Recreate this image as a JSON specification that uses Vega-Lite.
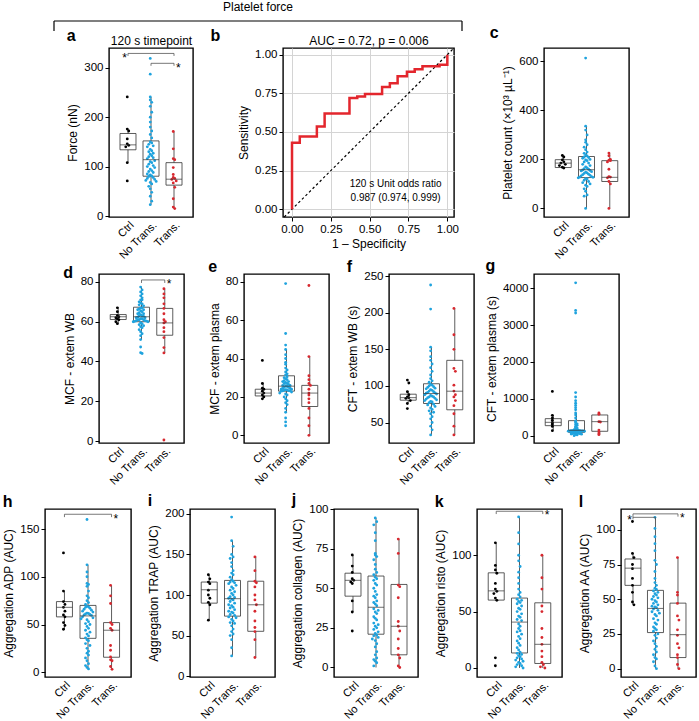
{
"$schema":"https://vega.github.io/schema/vega-lite/v6.json",
"padding":{"left":2,"top":1,"right":0,"bottom":0},
"background":"white",
"config":{
 "font":"Liberation Sans",
 "view":{"stroke":"black","strokeWidth":1.4},
 "axis":{"labelFontSize":11.5,"titleFontSize":12,"titleFontWeight":"normal","labelColor":"black","titleColor":"black","tickColor":"black","domain":false,"grid":false,"tickSize":4,"labelPadding":2,"titlePadding":4,"labelFont":"Liberation Sans","titleFont":"Liberation Sans"},
 "axisX":{"labelFontSize":11},
 "title":{"fontSize":16,"fontWeight":"bold","anchor":"start","frame":"bounds","baseline":"alphabetic","offset":-1,"color":"black","font":"Liberation Sans"}
},
"datasets":{
 "box":[
{"panel":"a","group":"C","lo":108,"q1":134,"med":144,"q3":167,"hi":176},
{"panel":"a","group":"N","lo":23,"q1":80.5,"med":114,"q3":152,"hi":241},
{"panel":"a","group":"T","lo":15,"q1":62.5,"med":74.5,"q3":108,"hi":171},
{"panel":"c","group":"C","lo":164,"q1":167,"med":185,"q3":199,"hi":216},
{"panel":"c","group":"N","lo":0,"q1":126,"med":158,"q3":212,"hi":336},
{"panel":"c","group":"T","lo":0,"q1":110,"med":127,"q3":195,"hi":226},
{"panel":"d","group":"C","lo":58.9,"q1":61.1,"med":62.5,"q3":63.6,"hi":67.3},
{"panel":"d","group":"N","lo":51,"q1":60,"med":62.5,"q3":67.3,"hi":77.4},
{"panel":"d","group":"T","lo":44.3,"q1":53.2,"med":59.4,"q3":66.7,"hi":76.6},
{"panel":"e","group":"C","lo":19,"q1":20.5,"med":22,"q3":24,"hi":27.4},
{"panel":"e","group":"N","lo":11.8,"q1":23,"med":25.6,"q3":31,"hi":44.7},
{"panel":"e","group":"T","lo":0,"q1":15,"med":22,"q3":26,"hi":41},
{"panel":"f","group":"C","lo":77,"q1":80.5,"med":84,"q3":88.7,"hi":93},
{"panel":"f","group":"N","lo":33,"q1":76,"med":89.6,"q3":103,"hi":153},
{"panel":"f","group":"T","lo":33,"q1":67.4,"med":92.8,"q3":135,"hi":206},
{"panel":"g","group":"C","lo":136,"q1":271,"med":362,"q3":461,"hi":552},
{"panel":"g","group":"N","lo":0,"q1":90,"med":145,"q3":407,"hi":615},
{"panel":"g","group":"T","lo":27,"q1":118,"med":380,"q3":561,"hi":615},
{"panel":"h","group":"C","lo":44.6,"q1":58,"med":68,"q3":74,"hi":85},
{"panel":"h","group":"N","lo":3.5,"q1":35.5,"med":59,"q3":70,"hi":112.5},
{"panel":"h","group":"T","lo":3,"q1":15.7,"med":44,"q3":52,"hi":91},
{"panel":"i","group":"C","lo":69,"q1":90,"med":106.5,"q3":116,"hi":125},
{"panel":"i","group":"N","lo":25,"q1":74,"med":95.5,"q3":118,"hi":167},
{"panel":"i","group":"T","lo":23,"q1":55.3,"med":88,"q3":117,"hi":147.5},
{"panel":"j","group":"C","lo":35,"q1":45,"med":55,"q3":59.5,"hi":71},
{"panel":"j","group":"N","lo":0,"q1":21,"med":38,"q3":57.7,"hi":94.3},
{"panel":"j","group":"T","lo":0,"q1":8,"med":26,"q3":52.4,"hi":81},
{"panel":"k","group":"C","lo":60,"q1":60.2,"med":68.4,"q3":84.4,"hi":111},
{"panel":"k","group":"N","lo":0,"q1":13.3,"med":40.7,"q3":62,"hi":134},
{"panel":"k","group":"T","lo":0,"q1":4,"med":21,"q3":57.8,"hi":100},
{"panel":"l","group":"C","lo":46,"q1":60,"med":72.4,"q3":79,"hi":83},
{"panel":"l","group":"N","lo":0,"q1":26,"med":43.4,"q3":56.4,"hi":109},
{"panel":"l","group":"T","lo":0,"q1":8,"med":24.5,"q3":47.2,"hi":79.6}
 ],
 "brk":[
{"panel":"a","group":"C","group2":"T","y":329},{"panel":"a","group":"N","group2":"T","y":309},{"panel":"d","group":"N","group2":"T","y":81},{"panel":"h","group":"C","group2":"T","y":165.5},{"panel":"k","group":"C","group2":"T","y":139},{"panel":"l","group":"C","group2":"T","y":111.5},{"panel":"l","group":"C","group2":"N","y":109}
 ],
 "drp":[
{"panel":"a","group":"C","y":329,"yd":324},{"panel":"a","group":"T","y":329,"yd":324},{"panel":"a","group":"N","y":309,"yd":304},{"panel":"a","group":"T","y":309,"yd":304},{"panel":"d","group":"N","y":81,"yd":79.5},{"panel":"d","group":"T","y":81,"yd":79.5},{"panel":"h","group":"C","y":165.5,"yd":162.5},{"panel":"h","group":"T","y":165.5,"yd":162.5},{"panel":"k","group":"C","y":139,"yd":136.5},{"panel":"k","group":"T","y":139,"yd":136.5},{"panel":"l","group":"C","y":111.5,"yd":107.5},{"panel":"l","group":"T","y":111.5,"yd":109.5},{"panel":"l","group":"N","y":109,"yd":107}
 ],
 "star":[
{"panel":"a","group":"C","side":"L","y":326},{"panel":"a","group":"T","side":"R","y":306},{"panel":"d","group":"T","side":"R","y":80.5},{"panel":"h","group":"T","side":"R","y":164},{"panel":"k","group":"T","side":"R","y":138},{"panel":"l","group":"C","side":"L","y":109},{"panel":"l","group":"T","side":"R","y":111}
 ],
 "roc":[
{"i":0,"fpr":0,"tpr":0},{"i":1,"fpr":0,"tpr":0.43},{"i":2,"fpr":0.05,"tpr":0.47},{"i":3,"fpr":0.16,"tpr":0.535},{"i":4,"fpr":0.21,"tpr":0.62},{"i":5,"fpr":0.37,"tpr":0.72},{"i":6,"fpr":0.42,"tpr":0.73},{"i":7,"fpr":0.47,"tpr":0.745},{"i":8,"fpr":0.58,"tpr":0.79},{"i":9,"fpr":0.63,"tpr":0.815},{"i":10,"fpr":0.68,"tpr":0.86},{"i":11,"fpr":0.74,"tpr":0.89},{"i":12,"fpr":0.79,"tpr":0.905},{"i":13,"fpr":0.84,"tpr":0.925},{"i":14,"fpr":0.95,"tpr":0.935},{"i":15,"fpr":1.0,"tpr":0.94},{"i":16,"fpr":1.0,"tpr":1.0}
 ],
 "pa":[
{"group":"C","value":241},{"group":"C","value":176},{"group":"C","value":172},{"group":"C","value":156},{"group":"C","value":146},{"group":"C","value":143},{"group":"C","value":140},{"group":"C","value":108},{"group":"C","value":71},
{"group":"N","value":319},{"group":"N","value":287},{"group":"N","value":241},{"group":"N","value":235},{"group":"N","value":230},{"group":"N","value":222},{"group":"N","value":210},{"group":"N","value":200},{"group":"N","value":190},{"group":"N","value":180},{"group":"N","value":172},{"group":"N","value":165},{"group":"N","value":158},{"group":"N","value":150},{"group":"N","value":148},{"group":"N","value":145},{"group":"N","value":142},{"group":"N","value":140},{"group":"N","value":135},{"group":"N","value":132},{"group":"N","value":130},{"group":"N","value":127},{"group":"N","value":125},{"group":"N","value":122},{"group":"N","value":120},{"group":"N","value":118},{"group":"N","value":116},{"group":"N","value":112},{"group":"N","value":110},{"group":"N","value":108},{"group":"N","value":105},{"group":"N","value":102},{"group":"N","value":100},{"group":"N","value":98},{"group":"N","value":95},{"group":"N","value":92},{"group":"N","value":90},{"group":"N","value":88},{"group":"N","value":85},{"group":"N","value":83},{"group":"N","value":81},{"group":"N","value":80},{"group":"N","value":78},{"group":"N","value":76},{"group":"N","value":74},{"group":"N","value":72},{"group":"N","value":70},{"group":"N","value":68},{"group":"N","value":65},{"group":"N","value":60},{"group":"N","value":55},{"group":"N","value":48},{"group":"N","value":40},{"group":"N","value":30},{"group":"N","value":23},
{"group":"T","value":171},{"group":"T","value":136},{"group":"T","value":116},{"group":"T","value":114},{"group":"T","value":98},{"group":"T","value":84},{"group":"T","value":78},{"group":"T","value":76},{"group":"T","value":74},{"group":"T","value":71},{"group":"T","value":67},{"group":"T","value":58},{"group":"T","value":35},{"group":"T","value":18},{"group":"T","value":15}
 ],
 "pc":[
{"group":"C","value":216},{"group":"C","value":210},{"group":"C","value":198},{"group":"C","value":190},{"group":"C","value":185},{"group":"C","value":180},{"group":"C","value":175},{"group":"C","value":168},{"group":"C","value":165},
{"group":"N","value":614},{"group":"N","value":336},{"group":"N","value":320},{"group":"N","value":300},{"group":"N","value":280},{"group":"N","value":270},{"group":"N","value":260},{"group":"N","value":250},{"group":"N","value":240},{"group":"N","value":230},{"group":"N","value":225},{"group":"N","value":218},{"group":"N","value":214},{"group":"N","value":210},{"group":"N","value":208},{"group":"N","value":205},{"group":"N","value":200},{"group":"N","value":198},{"group":"N","value":195},{"group":"N","value":190},{"group":"N","value":185},{"group":"N","value":180},{"group":"N","value":175},{"group":"N","value":170},{"group":"N","value":165},{"group":"N","value":162},{"group":"N","value":160},{"group":"N","value":157},{"group":"N","value":155},{"group":"N","value":153},{"group":"N","value":150},{"group":"N","value":148},{"group":"N","value":145},{"group":"N","value":143},{"group":"N","value":140},{"group":"N","value":138},{"group":"N","value":135},{"group":"N","value":133},{"group":"N","value":130},{"group":"N","value":128},{"group":"N","value":127},{"group":"N","value":125},{"group":"N","value":122},{"group":"N","value":120},{"group":"N","value":115},{"group":"N","value":110},{"group":"N","value":105},{"group":"N","value":100},{"group":"N","value":95},{"group":"N","value":90},{"group":"N","value":80},{"group":"N","value":70},{"group":"N","value":55},{"group":"N","value":50},{"group":"N","value":0},
{"group":"T","value":226},{"group":"T","value":215},{"group":"T","value":200},{"group":"T","value":197},{"group":"T","value":195},{"group":"T","value":190},{"group":"T","value":160},{"group":"T","value":130},{"group":"T","value":128},{"group":"T","value":125},{"group":"T","value":110},{"group":"T","value":100},{"group":"T","value":0}
 ],
 "pd":[
{"group":"C","value":67},{"group":"C","value":65},{"group":"C","value":63},{"group":"C","value":62.5},{"group":"C","value":62},{"group":"C","value":61.5},{"group":"C","value":61},{"group":"C","value":60},{"group":"C","value":59},
{"group":"N","value":77.4},{"group":"N","value":76},{"group":"N","value":75},{"group":"N","value":74},{"group":"N","value":73},{"group":"N","value":72},{"group":"N","value":71},{"group":"N","value":71},{"group":"N","value":70},{"group":"N","value":69.5},{"group":"N","value":69},{"group":"N","value":68.5},{"group":"N","value":68},{"group":"N","value":67},{"group":"N","value":67},{"group":"N","value":66.5},{"group":"N","value":66},{"group":"N","value":66},{"group":"N","value":65.5},{"group":"N","value":65},{"group":"N","value":64.5},{"group":"N","value":64},{"group":"N","value":64},{"group":"N","value":63.5},{"group":"N","value":63},{"group":"N","value":63},{"group":"N","value":62.7},{"group":"N","value":62.3},{"group":"N","value":62},{"group":"N","value":62},{"group":"N","value":61.5},{"group":"N","value":61.5},{"group":"N","value":61},{"group":"N","value":61},{"group":"N","value":61},{"group":"N","value":60.5},{"group":"N","value":60.5},{"group":"N","value":60.3},{"group":"N","value":60.2},{"group":"N","value":60},{"group":"N","value":60},{"group":"N","value":59.5},{"group":"N","value":59},{"group":"N","value":58.5},{"group":"N","value":58},{"group":"N","value":57.5},{"group":"N","value":57},{"group":"N","value":56},{"group":"N","value":55},{"group":"N","value":54},{"group":"N","value":53},{"group":"N","value":51},{"group":"N","value":47.3},{"group":"N","value":44.4},{"group":"N","value":44},
{"group":"T","value":76.6},{"group":"T","value":74},{"group":"T","value":72},{"group":"T","value":69},{"group":"T","value":66.7},{"group":"T","value":64},{"group":"T","value":61},{"group":"T","value":60},{"group":"T","value":59.4},{"group":"T","value":57},{"group":"T","value":55},{"group":"T","value":52},{"group":"T","value":47},{"group":"T","value":44.3},{"group":"T","value":0.5}
 ],
 "pe":[
{"group":"C","value":39},{"group":"C","value":27},{"group":"C","value":24.5},{"group":"C","value":24},{"group":"C","value":23},{"group":"C","value":22},{"group":"C","value":21},{"group":"C","value":20},{"group":"C","value":19},
{"group":"N","value":79},{"group":"N","value":53},{"group":"N","value":47},{"group":"N","value":44.7},{"group":"N","value":42},{"group":"N","value":40},{"group":"N","value":38},{"group":"N","value":37},{"group":"N","value":35},{"group":"N","value":34},{"group":"N","value":33},{"group":"N","value":32},{"group":"N","value":31.5},{"group":"N","value":30.5},{"group":"N","value":30},{"group":"N","value":29.5},{"group":"N","value":29},{"group":"N","value":28.5},{"group":"N","value":28},{"group":"N","value":28},{"group":"N","value":27.5},{"group":"N","value":27},{"group":"N","value":27},{"group":"N","value":26.5},{"group":"N","value":26},{"group":"N","value":26},{"group":"N","value":25.8},{"group":"N","value":25.4},{"group":"N","value":25},{"group":"N","value":25},{"group":"N","value":24.5},{"group":"N","value":24.5},{"group":"N","value":24},{"group":"N","value":24},{"group":"N","value":23.8},{"group":"N","value":23.6},{"group":"N","value":23.5},{"group":"N","value":23.3},{"group":"N","value":23.2},{"group":"N","value":23.1},{"group":"N","value":23},{"group":"N","value":22.5},{"group":"N","value":22},{"group":"N","value":21.5},{"group":"N","value":21},{"group":"N","value":20},{"group":"N","value":19},{"group":"N","value":18},{"group":"N","value":17},{"group":"N","value":16},{"group":"N","value":14},{"group":"N","value":12},{"group":"N","value":9},{"group":"N","value":7},{"group":"N","value":5},
{"group":"T","value":78},{"group":"T","value":41},{"group":"T","value":31},{"group":"T","value":29},{"group":"T","value":27},{"group":"T","value":26},{"group":"T","value":24},{"group":"T","value":22},{"group":"T","value":21},{"group":"T","value":19},{"group":"T","value":17},{"group":"T","value":14},{"group":"T","value":9},{"group":"T","value":5},{"group":"T","value":0}
 ],
 "pf":[
{"group":"C","value":108},{"group":"C","value":104},{"group":"C","value":92},{"group":"C","value":88},{"group":"C","value":85},{"group":"C","value":84},{"group":"C","value":83},{"group":"C","value":80},{"group":"C","value":76},{"group":"C","value":69},
{"group":"N","value":238},{"group":"N","value":205},{"group":"N","value":153},{"group":"N","value":148},{"group":"N","value":140},{"group":"N","value":135},{"group":"N","value":130},{"group":"N","value":125},{"group":"N","value":120},{"group":"N","value":115},{"group":"N","value":110},{"group":"N","value":107},{"group":"N","value":105},{"group":"N","value":102},{"group":"N","value":101},{"group":"N","value":100},{"group":"N","value":99},{"group":"N","value":98},{"group":"N","value":97},{"group":"N","value":96},{"group":"N","value":95},{"group":"N","value":94},{"group":"N","value":93},{"group":"N","value":92},{"group":"N","value":91},{"group":"N","value":90.5},{"group":"N","value":90},{"group":"N","value":89},{"group":"N","value":88},{"group":"N","value":87},{"group":"N","value":86},{"group":"N","value":85},{"group":"N","value":85},{"group":"N","value":84},{"group":"N","value":83},{"group":"N","value":82},{"group":"N","value":81},{"group":"N","value":80},{"group":"N","value":79},{"group":"N","value":78},{"group":"N","value":77},{"group":"N","value":75},{"group":"N","value":74},{"group":"N","value":72},{"group":"N","value":70},{"group":"N","value":68},{"group":"N","value":66},{"group":"N","value":64},{"group":"N","value":62},{"group":"N","value":58},{"group":"N","value":55},{"group":"N","value":50},{"group":"N","value":45},{"group":"N","value":40},{"group":"N","value":33},
{"group":"T","value":206},{"group":"T","value":170},{"group":"T","value":150},{"group":"T","value":124},{"group":"T","value":120},{"group":"T","value":101},{"group":"T","value":93},{"group":"T","value":88},{"group":"T","value":85},{"group":"T","value":80},{"group":"T","value":73},{"group":"T","value":62},{"group":"T","value":45},{"group":"T","value":33}
 ],
 "pg":[
{"group":"C","value":1200},{"group":"C","value":552},{"group":"C","value":480},{"group":"C","value":420},{"group":"C","value":360},{"group":"C","value":340},{"group":"C","value":300},{"group":"C","value":250},{"group":"C","value":136},
{"group":"N","value":4150},{"group":"N","value":3400},{"group":"N","value":3330},{"group":"N","value":1170},{"group":"N","value":1050},{"group":"N","value":950},{"group":"N","value":880},{"group":"N","value":820},{"group":"N","value":760},{"group":"N","value":700},{"group":"N","value":615},{"group":"N","value":560},{"group":"N","value":480},{"group":"N","value":400},{"group":"N","value":380},{"group":"N","value":350},{"group":"N","value":320},{"group":"N","value":300},{"group":"N","value":280},{"group":"N","value":250},{"group":"N","value":230},{"group":"N","value":210},{"group":"N","value":190},{"group":"N","value":175},{"group":"N","value":165},{"group":"N","value":155},{"group":"N","value":150},{"group":"N","value":142},{"group":"N","value":140},{"group":"N","value":138},{"group":"N","value":135},{"group":"N","value":133},{"group":"N","value":130},{"group":"N","value":128},{"group":"N","value":125},{"group":"N","value":122},{"group":"N","value":120},{"group":"N","value":115},{"group":"N","value":110},{"group":"N","value":100},{"group":"N","value":95},{"group":"N","value":88},{"group":"N","value":85},{"group":"N","value":80},{"group":"N","value":75},{"group":"N","value":70},{"group":"N","value":65},{"group":"N","value":60},{"group":"N","value":55},{"group":"N","value":50},{"group":"N","value":45},{"group":"N","value":40},{"group":"N","value":30},{"group":"N","value":20},{"group":"N","value":0},
{"group":"T","value":615},{"group":"T","value":580},{"group":"T","value":380},{"group":"T","value":370},{"group":"T","value":150},{"group":"T","value":100},{"group":"T","value":50},{"group":"T","value":27}
 ],
 "ph":[
{"group":"C","value":125},{"group":"C","value":85},{"group":"C","value":74},{"group":"C","value":71},{"group":"C","value":68},{"group":"C","value":64},{"group":"C","value":60},{"group":"C","value":58},{"group":"C","value":52},{"group":"C","value":49},{"group":"C","value":45},
{"group":"N","value":160},{"group":"N","value":112.5},{"group":"N","value":105},{"group":"N","value":100},{"group":"N","value":93},{"group":"N","value":92},{"group":"N","value":90},{"group":"N","value":85},{"group":"N","value":80},{"group":"N","value":78},{"group":"N","value":75},{"group":"N","value":73},{"group":"N","value":71},{"group":"N","value":69},{"group":"N","value":68.5},{"group":"N","value":68},{"group":"N","value":67},{"group":"N","value":66},{"group":"N","value":65},{"group":"N","value":64},{"group":"N","value":63},{"group":"N","value":62},{"group":"N","value":61.5},{"group":"N","value":61},{"group":"N","value":60.5},{"group":"N","value":60},{"group":"N","value":59.5},{"group":"N","value":58},{"group":"N","value":57},{"group":"N","value":56},{"group":"N","value":55},{"group":"N","value":53},{"group":"N","value":51},{"group":"N","value":50},{"group":"N","value":48},{"group":"N","value":46},{"group":"N","value":44},{"group":"N","value":42},{"group":"N","value":40},{"group":"N","value":38},{"group":"N","value":36},{"group":"N","value":34},{"group":"N","value":33},{"group":"N","value":30},{"group":"N","value":28},{"group":"N","value":25},{"group":"N","value":22},{"group":"N","value":20},{"group":"N","value":18},{"group":"N","value":15},{"group":"N","value":12},{"group":"N","value":9},{"group":"N","value":7},{"group":"N","value":5},{"group":"N","value":3.5},
{"group":"T","value":91},{"group":"T","value":80},{"group":"T","value":72},{"group":"T","value":52},{"group":"T","value":50},{"group":"T","value":46},{"group":"T","value":44},{"group":"T","value":28},{"group":"T","value":23},{"group":"T","value":16},{"group":"T","value":13},{"group":"T","value":12},{"group":"T","value":6},{"group":"T","value":3}
 ],
 "pi":[
{"group":"C","value":125},{"group":"C","value":120},{"group":"C","value":116},{"group":"C","value":114},{"group":"C","value":106},{"group":"C","value":100},{"group":"C","value":96},{"group":"C","value":91},{"group":"C","value":88},{"group":"C","value":69},
{"group":"N","value":196},{"group":"N","value":167},{"group":"N","value":160},{"group":"N","value":150},{"group":"N","value":147},{"group":"N","value":145},{"group":"N","value":140},{"group":"N","value":135},{"group":"N","value":130},{"group":"N","value":127},{"group":"N","value":125},{"group":"N","value":122},{"group":"N","value":119},{"group":"N","value":117},{"group":"N","value":116},{"group":"N","value":115},{"group":"N","value":114},{"group":"N","value":112},{"group":"N","value":110},{"group":"N","value":108},{"group":"N","value":106},{"group":"N","value":104},{"group":"N","value":102},{"group":"N","value":100},{"group":"N","value":98},{"group":"N","value":97},{"group":"N","value":96},{"group":"N","value":95},{"group":"N","value":94},{"group":"N","value":92},{"group":"N","value":90},{"group":"N","value":88},{"group":"N","value":87},{"group":"N","value":85},{"group":"N","value":84},{"group":"N","value":82},{"group":"N","value":80},{"group":"N","value":79},{"group":"N","value":78},{"group":"N","value":76},{"group":"N","value":75},{"group":"N","value":73},{"group":"N","value":72},{"group":"N","value":70},{"group":"N","value":68},{"group":"N","value":66},{"group":"N","value":65},{"group":"N","value":62},{"group":"N","value":58},{"group":"N","value":55},{"group":"N","value":52},{"group":"N","value":50},{"group":"N","value":45},{"group":"N","value":35},{"group":"N","value":25},
{"group":"T","value":147},{"group":"T","value":130},{"group":"T","value":117},{"group":"T","value":115},{"group":"T","value":110},{"group":"T","value":100},{"group":"T","value":94},{"group":"T","value":88},{"group":"T","value":80},{"group":"T","value":68},{"group":"T","value":60},{"group":"T","value":55},{"group":"T","value":45},{"group":"T","value":23}
 ],
 "pj":[
{"group":"C","value":71},{"group":"C","value":64},{"group":"C","value":60},{"group":"C","value":56},{"group":"C","value":55},{"group":"C","value":54},{"group":"C","value":53},{"group":"C","value":42},{"group":"C","value":35},{"group":"C","value":23},
{"group":"N","value":94.3},{"group":"N","value":92},{"group":"N","value":90},{"group":"N","value":85},{"group":"N","value":80},{"group":"N","value":72},{"group":"N","value":71},{"group":"N","value":70},{"group":"N","value":68},{"group":"N","value":65},{"group":"N","value":62},{"group":"N","value":60},{"group":"N","value":58.5},{"group":"N","value":57},{"group":"N","value":56},{"group":"N","value":55},{"group":"N","value":53},{"group":"N","value":52},{"group":"N","value":50},{"group":"N","value":48},{"group":"N","value":46},{"group":"N","value":45},{"group":"N","value":44},{"group":"N","value":42},{"group":"N","value":41},{"group":"N","value":40},{"group":"N","value":39},{"group":"N","value":37},{"group":"N","value":36},{"group":"N","value":35},{"group":"N","value":34},{"group":"N","value":32},{"group":"N","value":31},{"group":"N","value":30},{"group":"N","value":28},{"group":"N","value":27},{"group":"N","value":26},{"group":"N","value":25},{"group":"N","value":24},{"group":"N","value":22.5},{"group":"N","value":21.5},{"group":"N","value":20.5},{"group":"N","value":20},{"group":"N","value":19},{"group":"N","value":18},{"group":"N","value":17},{"group":"N","value":15},{"group":"N","value":13},{"group":"N","value":10},{"group":"N","value":8},{"group":"N","value":6},{"group":"N","value":5},{"group":"N","value":4},{"group":"N","value":3},{"group":"N","value":1},
{"group":"T","value":81},{"group":"T","value":72},{"group":"T","value":52},{"group":"T","value":51},{"group":"T","value":44},{"group":"T","value":29},{"group":"T","value":26},{"group":"T","value":23},{"group":"T","value":18},{"group":"T","value":12},{"group":"T","value":8},{"group":"T","value":6},{"group":"T","value":1},{"group":"T","value":0}
 ],
 "pk":[
{"group":"C","value":111},{"group":"C","value":91},{"group":"C","value":87},{"group":"C","value":84},{"group":"C","value":75},{"group":"C","value":70},{"group":"C","value":68},{"group":"C","value":66},{"group":"C","value":62},{"group":"C","value":60},{"group":"C","value":9},{"group":"C","value":2},
{"group":"N","value":134},{"group":"N","value":120},{"group":"N","value":110},{"group":"N","value":100},{"group":"N","value":95},{"group":"N","value":90},{"group":"N","value":85},{"group":"N","value":80},{"group":"N","value":75},{"group":"N","value":70},{"group":"N","value":67},{"group":"N","value":65},{"group":"N","value":63},{"group":"N","value":61},{"group":"N","value":60},{"group":"N","value":59},{"group":"N","value":58},{"group":"N","value":57},{"group":"N","value":55},{"group":"N","value":53},{"group":"N","value":52},{"group":"N","value":50},{"group":"N","value":48},{"group":"N","value":46},{"group":"N","value":45},{"group":"N","value":43},{"group":"N","value":42},{"group":"N","value":39},{"group":"N","value":37},{"group":"N","value":35},{"group":"N","value":33},{"group":"N","value":32},{"group":"N","value":30},{"group":"N","value":28},{"group":"N","value":26},{"group":"N","value":24},{"group":"N","value":22},{"group":"N","value":20},{"group":"N","value":18},{"group":"N","value":16},{"group":"N","value":14},{"group":"N","value":13},{"group":"N","value":12},{"group":"N","value":11},{"group":"N","value":10},{"group":"N","value":9},{"group":"N","value":8},{"group":"N","value":7},{"group":"N","value":6},{"group":"N","value":5},{"group":"N","value":4},{"group":"N","value":3},{"group":"N","value":2},{"group":"N","value":1},{"group":"N","value":0},
{"group":"T","value":100},{"group":"T","value":80},{"group":"T","value":70},{"group":"T","value":55},{"group":"T","value":50},{"group":"T","value":35},{"group":"T","value":27},{"group":"T","value":21},{"group":"T","value":15},{"group":"T","value":10},{"group":"T","value":5},{"group":"T","value":3},{"group":"T","value":1},{"group":"T","value":0}
 ],
 "pl":[
{"group":"C","value":106},{"group":"C","value":83},{"group":"C","value":80},{"group":"C","value":75},{"group":"C","value":72},{"group":"C","value":65},{"group":"C","value":60},{"group":"C","value":55},{"group":"C","value":48},{"group":"C","value":46},
{"group":"N","value":109},{"group":"N","value":101},{"group":"N","value":95},{"group":"N","value":90},{"group":"N","value":85},{"group":"N","value":78},{"group":"N","value":75},{"group":"N","value":70},{"group":"N","value":65},{"group":"N","value":62},{"group":"N","value":60},{"group":"N","value":58},{"group":"N","value":57},{"group":"N","value":56},{"group":"N","value":55},{"group":"N","value":54},{"group":"N","value":53},{"group":"N","value":52},{"group":"N","value":51},{"group":"N","value":50},{"group":"N","value":49},{"group":"N","value":48},{"group":"N","value":47},{"group":"N","value":46},{"group":"N","value":45},{"group":"N","value":44.5},{"group":"N","value":44},{"group":"N","value":43},{"group":"N","value":42},{"group":"N","value":41},{"group":"N","value":40},{"group":"N","value":39},{"group":"N","value":38},{"group":"N","value":36},{"group":"N","value":35},{"group":"N","value":33},{"group":"N","value":32},{"group":"N","value":30},{"group":"N","value":29},{"group":"N","value":28},{"group":"N","value":27},{"group":"N","value":25},{"group":"N","value":24},{"group":"N","value":22},{"group":"N","value":20},{"group":"N","value":18},{"group":"N","value":16},{"group":"N","value":14},{"group":"N","value":12},{"group":"N","value":10},{"group":"N","value":8},{"group":"N","value":7},{"group":"N","value":5},{"group":"N","value":2},{"group":"N","value":0},
{"group":"T","value":80},{"group":"T","value":55},{"group":"T","value":53},{"group":"T","value":47},{"group":"T","value":38},{"group":"T","value":35},{"group":"T","value":28},{"group":"T","value":24},{"group":"T","value":18},{"group":"T","value":15},{"group":"T","value":10},{"group":"T","value":8},{"group":"T","value":3},{"group":"T","value":0}
 ]
},
"vconcat":[
 {"vconcat":[
  {"vconcat":[
   {"hconcat":[
     {"width":9,"height":10,"view":{"stroke":null},"data":{"values":[]},"mark":"point"},
     {"width":408,"height":10,"view":{"stroke":null},
      "title":{"text":"Platelet force","anchor":"middle","frame":"group","fontSize":12,"fontWeight":"normal","offset":6},
      "data":{"values":[{"xa":0,"xb":1,"ya":1,"yb":1},{"xa":0,"xb":0,"ya":1,"yb":0},{"xa":1,"xb":1,"ya":1,"yb":0}]},
      "mark":{"type":"rule","color":"black","strokeWidth":1.2},
      "encoding":{"x":{"field":"xa","type":"quantitative","axis":null,"scale":{"domain":[0,1]}},"x2":{"field":"xb"},"y":{"field":"ya","type":"quantitative","axis":null,"scale":{"domain":[0,1]}},"y2":{"field":"yb"}}}
   ],"spacing":0,"bounds":"flush"},
   {"hconcat":[
    {"width":21,"height":10,"view":{"stroke":null},"data":{"values":[]},"mark":"point"},
    {"hconcat":[
     {"width":84,"height":169,"title":{"text":"a","offset":-10},
      "layer":[
       {"encoding":{"x":{"field":"group","type":"nominal","scale":{"type":"band","domain":["C","N","T"],"paddingInner":0.1,"paddingOuter":0.376},"axis":{"title":null,"ticks":false,"labelAngle":-45,"labelAlign":"right","labelBaseline":"top","labelPadding":2,"labelExpr":"datum.value == 'C' ? 'Ctrl' : datum.value == 'N' ? 'No Trans.' : 'Trans.'"}}},
        "layer":[
         {"data":{"name":"box"},"transform":[{"filter":"datum.panel == 'a'"}],"layer":[
           {"mark":{"type":"rule","color":"#333","strokeWidth":0.8},"encoding":{"y":{"field":"lo","type":"quantitative","scale":{"domain":[-2,340],"nice":false,"zero":false},"axis":{"title":"Force (nN)","values":[0,50,100,150,200,250,300],"labelExpr":"datum.value % 100 == 0 ? datum.label : ''"}},"y2":{"field":"hi"}}},
           {"mark":{"type":"bar","size":16,"fill":"white","stroke":"#333","strokeWidth":0.8},"encoding":{"y":{"field":"q1","type":"quantitative","scale":{"domain":[-2,340],"nice":false,"zero":false}},"y2":{"field":"q3"}}}
         ]},
         {"data":{"name":"pa"},"transform":[{"bin":{"step":14},"field":"value","as":"vb"},{"window":[{"op":"row_number","as":"k"}],"groupby":["group","vb"]}],"mark":{"type":"circle","size":8,"opacity":1},"encoding":{"y":{"field":"value","type":"quantitative","scale":{"domain":[-2,340],"nice":false,"zero":false}},"xOffset":{"field":"k","type":"ordinal","scale":{"domain":[13,11,9,7,5,3,1,2,4,6,8,10,12,14]}},"color":{"field":"group","type":"nominal","scale":{"domain":["C","N","T"],"range":["#000000","#1fa3de","#d7282f"]},"legend":null}}},
         {"data":{"name":"box"},"transform":[{"filter":"datum.panel == 'a'"}],"mark":{"type":"tick","size":16,"thickness":1,"color":"#333"},"encoding":{"y":{"field":"med","type":"quantitative","scale":{"domain":[-2,340],"nice":false,"zero":false}}}}
        ]},
       {"encoding":{"x":{"field":"group","type":"nominal","scale":{"type":"band","domain":["C","N","T"],"paddingInner":0.1,"paddingOuter":0.376},"axis":{"orient":"top","title":"120 s timepoint","labels":false,"ticks":false,"domain":false,"titlePadding":1}}},
        "layer":[
         {"data":{"name":"brk"},"transform":[{"filter":"datum.panel == 'a'"}],"mark":{"type":"rule","color":"#555","strokeWidth":0.8},"encoding":{"x2":{"field":"group2"},"y":{"field":"y","type":"quantitative","scale":{"domain":[-2,340],"nice":false,"zero":false}}}},
         {"data":{"name":"drp"},"transform":[{"filter":"datum.panel == 'a'"}],"mark":{"type":"rule","color":"#555","strokeWidth":0.8},"encoding":{"y":{"field":"y","type":"quantitative","scale":{"domain":[-2,340],"nice":false,"zero":false}},"y2":{"field":"yd"}}},
         {"data":{"name":"star"},"transform":[{"filter":"datum.panel == 'a' && datum.side == 'L'"}],"mark":{"type":"text","text":"*","align":"right","baseline":"middle","dx":-1,"dy":3,"fontSize":12},"encoding":{"y":{"field":"y","type":"quantitative","scale":{"domain":[-2,340],"nice":false,"zero":false}}}},
         {"data":{"name":"star"},"transform":[{"filter":"datum.panel == 'a' && datum.side == 'R'"}],"mark":{"type":"text","text":"*","align":"left","baseline":"middle","dx":2,"dy":3,"fontSize":12},"encoding":{"y":{"field":"y","type":"quantitative","scale":{"domain":[-2,340],"nice":false,"zero":false}}}}
        ]}
      ],
      "resolve":{"axis":{"x":"independent"}}},
     {"width":171,"height":169,"title":{"text":"b","offset":-10,"dx":-27},
      "layer":[
       {"data":{"values":[{"fpr":-0.05,"tpr":-0.05},{"fpr":1.04,"tpr":1.04}]},"mark":{"type":"line","color":"black","strokeDash":[2.5,2.5],"strokeWidth":1.2},
        "encoding":{"x":{"field":"fpr","type":"quantitative","scale":{"domain":[-0.058,1.043],"nice":false,"zero":false},"axis":{"orient":"top","title":"AUC = 0.72, p = 0.006","labels":false,"ticks":false,"domain":false,"grid":false,"titlePadding":1}},
                    "y":{"field":"tpr","type":"quantitative","scale":{"domain":[-0.05,1.043],"nice":false,"zero":false},"axis":{"title":"Sensitivity","values":[0,0.25,0.5,0.75,1],"format":".2f","grid":true,"gridColor":"#d4d4d4"}}}},
       {"data":{"name":"roc"},"mark":{"type":"line","interpolate":"step-after","color":"#e3262d","strokeWidth":2.5},
        "encoding":{"x":{"field":"fpr","type":"quantitative","scale":{"domain":[-0.058,1.043],"nice":false,"zero":false},"axis":{"title":"1 – Specificity","values":[0,0.25,0.5,0.75,1],"format":".2f","grid":true,"gridColor":"#d4d4d4","labelFontSize":11.5}},
                    "y":{"field":"tpr","type":"quantitative","scale":{"domain":[-0.05,1.043],"nice":false,"zero":false}},"order":{"field":"i"}}},
       {"data":{"values":[{"fpr":0.667,"tpr":0.163,"label":"120 s Unit odds ratio"},{"fpr":0.667,"tpr":0.076,"label":"0.987 (0.974, 0.999)"}]},"mark":{"type":"text","fontSize":10,"color":"black"},
        "encoding":{"x":{"field":"fpr","type":"quantitative","scale":{"domain":[-0.058,1.043],"nice":false,"zero":false},"axis":null},"y":{"field":"tpr","type":"quantitative","scale":{"domain":[-0.05,1.043],"nice":false,"zero":false}},"text":{"field":"label"}}}
      ],
      "resolve":{"axis":{"x":"independent"}}},
     {"width":85,"height":169,"title":{"text":"c","offset":7,"dx":-12},
      "encoding":{"x":{"field":"group","type":"nominal","scale":{"type":"band","domain":["C","N","T"],"paddingInner":0.1,"paddingOuter":0.376},"axis":{"title":null,"ticks":false,"labelAngle":-45,"labelAlign":"right","labelBaseline":"top","labelPadding":2,"labelExpr":"datum.value == 'C' ? 'Ctrl' : datum.value == 'N' ? 'No Trans.' : 'Trans.'"}}},
      "layer":[
       {"data":{"name":"box"},"transform":[{"filter":"datum.panel == 'c'"}],"layer":[
         {"mark":{"type":"rule","color":"#333","strokeWidth":0.8},"encoding":{"y":{"field":"lo","type":"quantitative","scale":{"domain":[-35,655],"nice":false,"zero":false},"axis":{"title":"Platelet count (×10³ µL⁻¹)","values":[0,50,100,150,200,250,300,350,400,450,500,550,600],"labelExpr":"datum.value % 100 == 0 ? datum.label : ''"}},"y2":{"field":"hi"}}},
         {"mark":{"type":"bar","size":16,"fill":"white","stroke":"#333","strokeWidth":0.8},"encoding":{"y":{"field":"q1","type":"quantitative","scale":{"domain":[-35,655],"nice":false,"zero":false}},"y2":{"field":"q3"}}}
       ]},
       {"data":{"name":"pc"},"transform":[{"bin":{"step":25},"field":"value","as":"vb"},{"window":[{"op":"row_number","as":"k"}],"groupby":["group","vb"]}],"mark":{"type":"circle","size":8,"opacity":1},"encoding":{"y":{"field":"value","type":"quantitative","scale":{"domain":[-35,655],"nice":false,"zero":false}},"xOffset":{"field":"k","type":"ordinal","scale":{"domain":[13,11,9,7,5,3,1,2,4,6,8,10,12,14]}},"color":{"field":"group","type":"nominal","scale":{"domain":["C","N","T"],"range":["#000000","#1fa3de","#d7282f"]},"legend":null}}},
       {"data":{"name":"box"},"transform":[{"filter":"datum.panel == 'c'"}],"mark":{"type":"tick","size":16,"thickness":1,"color":"#333"},"encoding":{"y":{"field":"med","type":"quantitative","scale":{"domain":[-35,655],"nice":false,"zero":false}}}}
      ]}
    ],"spacing":90,"bounds":"flush"}
   ],"spacing":0}
  ],"spacing":-8},
  {"hconcat":[
   {"width":17,"height":10,"view":{"stroke":null},"data":{"values":[]},"mark":"point"},
   {"hconcat":[
    {"width":85,"height":169,"title":{"text":"d","offset":-7},
     "encoding":{"x":{"field":"group","type":"nominal","scale":{"type":"band","domain":["C","N","T"],"paddingInner":0.1,"paddingOuter":0.376},"axis":{"title":null,"ticks":false,"labelAngle":-45,"labelAlign":"right","labelBaseline":"top","labelPadding":2,"labelExpr":"datum.value == 'C' ? 'Ctrl' : datum.value == 'N' ? 'No Trans.' : 'Trans.'"}}},
     "layer":[
      {"data":{"name":"box"},"transform":[{"filter":"datum.panel == 'd'"}],"layer":[
        {"mark":{"type":"rule","color":"#333","strokeWidth":0.8},"encoding":{"y":{"field":"lo","type":"quantitative","scale":{"domain":[-1,84],"nice":false,"zero":false},"axis":{"title":"MCF - extem WB","values":[0,20,40,60,80]}},"y2":{"field":"hi"}}},
        {"mark":{"type":"bar","size":16,"fill":"white","stroke":"#333","strokeWidth":0.8},"encoding":{"y":{"field":"q1","type":"quantitative","scale":{"domain":[-1,84],"nice":false,"zero":false}},"y2":{"field":"q3"}}}
      ]},
      {"data":{"name":"pd"},"transform":[{"bin":{"step":2},"field":"value","as":"vb"},{"window":[{"op":"row_number","as":"k"}],"groupby":["group","vb"]}],"mark":{"type":"circle","size":8,"opacity":1},"encoding":{"y":{"field":"value","type":"quantitative","scale":{"domain":[-1,84],"nice":false,"zero":false}},"xOffset":{"field":"k","type":"ordinal","scale":{"domain":[13,11,9,7,5,3,1,2,4,6,8,10,12,14]}},"color":{"field":"group","type":"nominal","scale":{"domain":["C","N","T"],"range":["#000000","#1fa3de","#d7282f"]},"legend":null}}},
      {"data":{"name":"box"},"transform":[{"filter":"datum.panel == 'd'"}],"mark":{"type":"tick","size":16,"thickness":1,"color":"#333"},"encoding":{"y":{"field":"med","type":"quantitative","scale":{"domain":[-1,84],"nice":false,"zero":false}}}},
      {"data":{"name":"brk"},"transform":[{"filter":"datum.panel == 'd'"}],"mark":{"type":"rule","color":"#555","strokeWidth":0.8},"encoding":{"x2":{"field":"group2"},"y":{"field":"y","type":"quantitative","scale":{"domain":[-1,84],"nice":false,"zero":false}}}},
      {"data":{"name":"drp"},"transform":[{"filter":"datum.panel == 'd'"}],"mark":{"type":"rule","color":"#555","strokeWidth":0.8},"encoding":{"y":{"field":"y","type":"quantitative","scale":{"domain":[-1,84],"nice":false,"zero":false}},"y2":{"field":"yd"}}},
      {"data":{"name":"star"},"transform":[{"filter":"datum.panel == 'd' && datum.side == 'R'"}],"mark":{"type":"text","text":"*","align":"left","baseline":"middle","dx":2,"dy":3,"fontSize":12},"encoding":{"y":{"field":"y","type":"quantitative","scale":{"domain":[-1,84],"nice":false,"zero":false}}}}
     ]},
    {"width":85,"height":169,"title":{"text":"e","offset":-1},
     "encoding":{"x":{"field":"group","type":"nominal","scale":{"type":"band","domain":["C","N","T"],"paddingInner":0.1,"paddingOuter":0.376},"axis":{"title":null,"ticks":false,"labelAngle":-45,"labelAlign":"right","labelBaseline":"top","labelPadding":2,"labelExpr":"datum.value == 'C' ? 'Ctrl' : datum.value == 'N' ? 'No Trans.' : 'Trans.'"}}},
     "layer":[
      {"data":{"name":"box"},"transform":[{"filter":"datum.panel == 'e'"}],"layer":[
        {"mark":{"type":"rule","color":"#333","strokeWidth":0.8},"encoding":{"y":{"field":"lo","type":"quantitative","scale":{"domain":[-4,84],"nice":false,"zero":false},"axis":{"title":"MCF - extem plasma","values":[0,20,40,60,80]}},"y2":{"field":"hi"}}},
        {"mark":{"type":"bar","size":16,"fill":"white","stroke":"#333","strokeWidth":0.8},"encoding":{"y":{"field":"q1","type":"quantitative","scale":{"domain":[-4,84],"nice":false,"zero":false}},"y2":{"field":"q3"}}}
      ]},
      {"data":{"name":"pe"},"transform":[{"bin":{"step":2},"field":"value","as":"vb"},{"window":[{"op":"row_number","as":"k"}],"groupby":["group","vb"]}],"mark":{"type":"circle","size":8,"opacity":1},"encoding":{"y":{"field":"value","type":"quantitative","scale":{"domain":[-4,84],"nice":false,"zero":false}},"xOffset":{"field":"k","type":"ordinal","scale":{"domain":[13,11,9,7,5,3,1,2,4,6,8,10,12,14]}},"color":{"field":"group","type":"nominal","scale":{"domain":["C","N","T"],"range":["#000000","#1fa3de","#d7282f"]},"legend":null}}},
      {"data":{"name":"box"},"transform":[{"filter":"datum.panel == 'e'"}],"mark":{"type":"tick","size":16,"thickness":1,"color":"#333"},"encoding":{"y":{"field":"med","type":"quantitative","scale":{"domain":[-4,84],"nice":false,"zero":false}}}}
     ]},
    {"width":85,"height":169,"title":{"text":"f","offset":-5},
     "encoding":{"x":{"field":"group","type":"nominal","scale":{"type":"band","domain":["C","N","T"],"paddingInner":0.1,"paddingOuter":0.376},"axis":{"title":null,"ticks":false,"labelAngle":-45,"labelAlign":"right","labelBaseline":"top","labelPadding":2,"labelExpr":"datum.value == 'C' ? 'Ctrl' : datum.value == 'N' ? 'No Trans.' : 'Trans.'"}}},
     "layer":[
      {"data":{"name":"box"},"transform":[{"filter":"datum.panel == 'f'"}],"layer":[
        {"mark":{"type":"rule","color":"#333","strokeWidth":0.8},"encoding":{"y":{"field":"lo","type":"quantitative","scale":{"domain":[22,253],"nice":false,"zero":false},"axis":{"title":"CFT - extem WB (s)","values":[50,100,150,200,250]}},"y2":{"field":"hi"}}},
        {"mark":{"type":"bar","size":16,"fill":"white","stroke":"#333","strokeWidth":0.8},"encoding":{"y":{"field":"q1","type":"quantitative","scale":{"domain":[22,253],"nice":false,"zero":false}},"y2":{"field":"q3"}}}
      ]},
      {"data":{"name":"pf"},"transform":[{"bin":{"step":8},"field":"value","as":"vb"},{"window":[{"op":"row_number","as":"k"}],"groupby":["group","vb"]}],"mark":{"type":"circle","size":8,"opacity":1},"encoding":{"y":{"field":"value","type":"quantitative","scale":{"domain":[22,253],"nice":false,"zero":false}},"xOffset":{"field":"k","type":"ordinal","scale":{"domain":[13,11,9,7,5,3,1,2,4,6,8,10,12,14]}},"color":{"field":"group","type":"nominal","scale":{"domain":["C","N","T"],"range":["#000000","#1fa3de","#d7282f"]},"legend":null}}},
      {"data":{"name":"box"},"transform":[{"filter":"datum.panel == 'f'"}],"mark":{"type":"tick","size":16,"thickness":1,"color":"#333"},"encoding":{"y":{"field":"med","type":"quantitative","scale":{"domain":[22,253],"nice":false,"zero":false}}}}
     ]},
    {"width":85,"height":169,"title":{"text":"g","offset":0},
     "encoding":{"x":{"field":"group","type":"nominal","scale":{"type":"band","domain":["C","N","T"],"paddingInner":0.1,"paddingOuter":0.376},"axis":{"title":null,"ticks":false,"labelAngle":-45,"labelAlign":"right","labelBaseline":"top","labelPadding":2,"labelExpr":"datum.value == 'C' ? 'Ctrl' : datum.value == 'N' ? 'No Trans.' : 'Trans.'"}}},
     "layer":[
      {"data":{"name":"box"},"transform":[{"filter":"datum.panel == 'g'"}],"layer":[
        {"mark":{"type":"rule","color":"#333","strokeWidth":0.8},"encoding":{"y":{"field":"lo","type":"quantitative","scale":{"domain":[-200,4390],"nice":false,"zero":false},"axis":{"title":"CFT - extem plasma (s)","values":[0,1000,2000,3000,4000],"format":"d"}},"y2":{"field":"hi"}}},
        {"mark":{"type":"bar","size":16,"fill":"white","stroke":"#333","strokeWidth":0.8},"encoding":{"y":{"field":"q1","type":"quantitative","scale":{"domain":[-200,4390],"nice":false,"zero":false}},"y2":{"field":"q3"}}}
      ]},
      {"data":{"name":"pg"},"transform":[{"bin":{"step":40},"field":"value","as":"vb"},{"window":[{"op":"row_number","as":"k"}],"groupby":["group","vb"]}],"mark":{"type":"circle","size":8,"opacity":1},"encoding":{"y":{"field":"value","type":"quantitative","scale":{"domain":[-200,4390],"nice":false,"zero":false}},"xOffset":{"field":"k","type":"ordinal","scale":{"domain":[13,11,9,7,5,3,1,2,4,6,8,10,12,14]}},"color":{"field":"group","type":"nominal","scale":{"domain":["C","N","T"],"range":["#000000","#1fa3de","#d7282f"]},"legend":null}}},
      {"data":{"name":"box"},"transform":[{"filter":"datum.panel == 'g'"}],"mark":{"type":"tick","size":16,"thickness":1,"color":"#333"},"encoding":{"y":{"field":"med","type":"quantitative","scale":{"domain":[-200,4390],"nice":false,"zero":false}}}}
     ]}
   ],"spacing":60,"bounds":"flush"}
  ],"spacing":0}
 ],"spacing":-5},
 {"hconcat":[
    {"width":86,"height":168,"title":{"text":"h","offset":-1},
     "encoding":{"x":{"field":"group","type":"nominal","scale":{"type":"band","domain":["C","N","T"],"paddingInner":0.1,"paddingOuter":0.376},"axis":{"title":null,"ticks":false,"labelAngle":-45,"labelAlign":"right","labelBaseline":"top","labelPadding":2,"labelExpr":"datum.value == 'C' ? 'Ctrl' : datum.value == 'N' ? 'No Trans.' : 'Trans.'"}}},
     "layer":[
      {"data":{"name":"box"},"transform":[{"filter":"datum.panel == 'h'"}],"layer":[
        {"mark":{"type":"rule","color":"#333","strokeWidth":0.8},"encoding":{"y":{"field":"lo","type":"quantitative","scale":{"domain":[-5,171],"nice":false,"zero":false},"axis":{"title":"Aggregation ADP (AUC)","values":[0,50,100,150]}},"y2":{"field":"hi"}}},
        {"mark":{"type":"bar","size":16,"fill":"white","stroke":"#333","strokeWidth":0.8},"encoding":{"y":{"field":"q1","type":"quantitative","scale":{"domain":[-5,171],"nice":false,"zero":false}},"y2":{"field":"q3"}}}
      ]},
      {"data":{"name":"ph"},"transform":[{"bin":{"step":7},"field":"value","as":"vb"},{"window":[{"op":"row_number","as":"k"}],"groupby":["group","vb"]}],"mark":{"type":"circle","size":8,"opacity":1},"encoding":{"y":{"field":"value","type":"quantitative","scale":{"domain":[-5,171],"nice":false,"zero":false}},"xOffset":{"field":"k","type":"ordinal","scale":{"domain":[13,11,9,7,5,3,1,2,4,6,8,10,12,14]}},"color":{"field":"group","type":"nominal","scale":{"domain":["C","N","T"],"range":["#000000","#1fa3de","#d7282f"]},"legend":null}}},
      {"data":{"name":"box"},"transform":[{"filter":"datum.panel == 'h'"}],"mark":{"type":"tick","size":16,"thickness":1,"color":"#333"},"encoding":{"y":{"field":"med","type":"quantitative","scale":{"domain":[-5,171],"nice":false,"zero":false}}}},
      {"data":{"name":"brk"},"transform":[{"filter":"datum.panel == 'h'"}],"mark":{"type":"rule","color":"#555","strokeWidth":0.8},"encoding":{"x2":{"field":"group2"},"y":{"field":"y","type":"quantitative","scale":{"domain":[-5,171],"nice":false,"zero":false}}}},
      {"data":{"name":"drp"},"transform":[{"filter":"datum.panel == 'h'"}],"mark":{"type":"rule","color":"#555","strokeWidth":0.8},"encoding":{"y":{"field":"y","type":"quantitative","scale":{"domain":[-5,171],"nice":false,"zero":false}},"y2":{"field":"yd"}}},
      {"data":{"name":"star"},"transform":[{"filter":"datum.panel == 'h' && datum.side == 'R'"}],"mark":{"type":"text","text":"*","align":"left","baseline":"middle","dx":2,"dy":3,"fontSize":12},"encoding":{"y":{"field":"y","type":"quantitative","scale":{"domain":[-5,171],"nice":false,"zero":false}}}}
     ]},
    {"width":85,"height":168,"title":{"text":"i","offset":-1.5},
     "encoding":{"x":{"field":"group","type":"nominal","scale":{"type":"band","domain":["C","N","T"],"paddingInner":0.1,"paddingOuter":0.376},"axis":{"title":null,"ticks":false,"labelAngle":-45,"labelAlign":"right","labelBaseline":"top","labelPadding":2,"labelExpr":"datum.value == 'C' ? 'Ctrl' : datum.value == 'N' ? 'No Trans.' : 'Trans.'"}}},
     "layer":[
      {"data":{"name":"box"},"transform":[{"filter":"datum.panel == 'i'"}],"layer":[
        {"mark":{"type":"rule","color":"#333","strokeWidth":0.8},"encoding":{"y":{"field":"lo","type":"quantitative","scale":{"domain":[-1,206],"nice":false,"zero":false},"axis":{"title":"Aggregation TRAP (AUC)","values":[0,50,100,150,200]}},"y2":{"field":"hi"}}},
        {"mark":{"type":"bar","size":16,"fill":"white","stroke":"#333","strokeWidth":0.8},"encoding":{"y":{"field":"q1","type":"quantitative","scale":{"domain":[-1,206],"nice":false,"zero":false}},"y2":{"field":"q3"}}}
      ]},
      {"data":{"name":"pi"},"transform":[{"bin":{"step":8},"field":"value","as":"vb"},{"window":[{"op":"row_number","as":"k"}],"groupby":["group","vb"]}],"mark":{"type":"circle","size":8,"opacity":1},"encoding":{"y":{"field":"value","type":"quantitative","scale":{"domain":[-1,206],"nice":false,"zero":false}},"xOffset":{"field":"k","type":"ordinal","scale":{"domain":[13,11,9,7,5,3,1,2,4,6,8,10,12,14]}},"color":{"field":"group","type":"nominal","scale":{"domain":["C","N","T"],"range":["#000000","#1fa3de","#d7282f"]},"legend":null}}},
      {"data":{"name":"box"},"transform":[{"filter":"datum.panel == 'i'"}],"mark":{"type":"tick","size":16,"thickness":1,"color":"#333"},"encoding":{"y":{"field":"med","type":"quantitative","scale":{"domain":[-1,206],"nice":false,"zero":false}}}}
     ]},
    {"width":84,"height":168,"title":{"text":"j","offset":-5},
     "encoding":{"x":{"field":"group","type":"nominal","scale":{"type":"band","domain":["C","N","T"],"paddingInner":0.1,"paddingOuter":0.376},"axis":{"title":null,"ticks":false,"labelAngle":-45,"labelAlign":"right","labelBaseline":"top","labelPadding":2,"labelExpr":"datum.value == 'C' ? 'Ctrl' : datum.value == 'N' ? 'No Trans.' : 'Trans.'"}}},
     "layer":[
      {"data":{"name":"box"},"transform":[{"filter":"datum.panel == 'j'"}],"layer":[
        {"mark":{"type":"rule","color":"#333","strokeWidth":0.8},"encoding":{"y":{"field":"lo","type":"quantitative","scale":{"domain":[-6,100],"nice":false,"zero":false},"axis":{"title":"Aggregation collagen (AUC)","values":[0,25,50,75,100]}},"y2":{"field":"hi"}}},
        {"mark":{"type":"bar","size":16,"fill":"white","stroke":"#333","strokeWidth":0.8},"encoding":{"y":{"field":"q1","type":"quantitative","scale":{"domain":[-6,100],"nice":false,"zero":false}},"y2":{"field":"q3"}}}
      ]},
      {"data":{"name":"pj"},"transform":[{"bin":{"step":4.5},"field":"value","as":"vb"},{"window":[{"op":"row_number","as":"k"}],"groupby":["group","vb"]}],"mark":{"type":"circle","size":8,"opacity":1},"encoding":{"y":{"field":"value","type":"quantitative","scale":{"domain":[-6,100],"nice":false,"zero":false}},"xOffset":{"field":"k","type":"ordinal","scale":{"domain":[13,11,9,7,5,3,1,2,4,6,8,10,12,14]}},"color":{"field":"group","type":"nominal","scale":{"domain":["C","N","T"],"range":["#000000","#1fa3de","#d7282f"]},"legend":null}}},
      {"data":{"name":"box"},"transform":[{"filter":"datum.panel == 'j'"}],"mark":{"type":"tick","size":16,"thickness":1,"color":"#333"},"encoding":{"y":{"field":"med","type":"quantitative","scale":{"domain":[-6,100],"nice":false,"zero":false}}}}
     ]},
    {"width":85,"height":168,"title":{"text":"k","offset":-1},
     "encoding":{"x":{"field":"group","type":"nominal","scale":{"type":"band","domain":["C","N","T"],"paddingInner":0.1,"paddingOuter":0.376},"axis":{"title":null,"ticks":false,"labelAngle":-45,"labelAlign":"right","labelBaseline":"top","labelPadding":2,"labelExpr":"datum.value == 'C' ? 'Ctrl' : datum.value == 'N' ? 'No Trans.' : 'Trans.'"}}},
     "layer":[
      {"data":{"name":"box"},"transform":[{"filter":"datum.panel == 'k'"}],"layer":[
        {"mark":{"type":"rule","color":"#333","strokeWidth":0.8},"encoding":{"y":{"field":"lo","type":"quantitative","scale":{"domain":[-8,141],"nice":false,"zero":false},"axis":{"title":"Aggregation risto (AUC)","values":[0,50,100]}},"y2":{"field":"hi"}}},
        {"mark":{"type":"bar","size":16,"fill":"white","stroke":"#333","strokeWidth":0.8},"encoding":{"y":{"field":"q1","type":"quantitative","scale":{"domain":[-8,141],"nice":false,"zero":false}},"y2":{"field":"q3"}}}
      ]},
      {"data":{"name":"pk"},"transform":[{"bin":{"step":6},"field":"value","as":"vb"},{"window":[{"op":"row_number","as":"k"}],"groupby":["group","vb"]}],"mark":{"type":"circle","size":8,"opacity":1},"encoding":{"y":{"field":"value","type":"quantitative","scale":{"domain":[-8,141],"nice":false,"zero":false}},"xOffset":{"field":"k","type":"ordinal","scale":{"domain":[13,11,9,7,5,3,1,2,4,6,8,10,12,14]}},"color":{"field":"group","type":"nominal","scale":{"domain":["C","N","T"],"range":["#000000","#1fa3de","#d7282f"]},"legend":null}}},
      {"data":{"name":"box"},"transform":[{"filter":"datum.panel == 'k'"}],"mark":{"type":"tick","size":16,"thickness":1,"color":"#333"},"encoding":{"y":{"field":"med","type":"quantitative","scale":{"domain":[-8,141],"nice":false,"zero":false}}}},
      {"data":{"name":"brk"},"transform":[{"filter":"datum.panel == 'k'"}],"mark":{"type":"rule","color":"#555","strokeWidth":0.8},"encoding":{"x2":{"field":"group2"},"y":{"field":"y","type":"quantitative","scale":{"domain":[-8,141],"nice":false,"zero":false}}}},
      {"data":{"name":"drp"},"transform":[{"filter":"datum.panel == 'k'"}],"mark":{"type":"rule","color":"#555","strokeWidth":0.8},"encoding":{"y":{"field":"y","type":"quantitative","scale":{"domain":[-8,141],"nice":false,"zero":false}},"y2":{"field":"yd"}}},
      {"data":{"name":"star"},"transform":[{"filter":"datum.panel == 'k' && datum.side == 'R'"}],"mark":{"type":"text","text":"*","align":"left","baseline":"middle","dx":2,"dy":3,"fontSize":12},"encoding":{"y":{"field":"y","type":"quantitative","scale":{"domain":[-8,141],"nice":false,"zero":false}}}}
     ]},
    {"width":75,"height":168,"title":{"text":"l","offset":-1},
     "encoding":{"x":{"field":"group","type":"nominal","scale":{"type":"band","domain":["C","N","T"],"paddingInner":0.1,"paddingOuter":0.217,"align":0.19},"axis":{"title":null,"ticks":false,"labelAngle":-45,"labelAlign":"right","labelBaseline":"top","labelPadding":2,"labelExpr":"datum.value == 'C' ? 'Ctrl' : datum.value == 'N' ? 'No Trans.' : 'Trans.'"}}},
     "layer":[
      {"data":{"name":"box"},"transform":[{"filter":"datum.panel == 'l'"}],"layer":[
        {"mark":{"type":"rule","color":"#333","strokeWidth":0.8},"encoding":{"y":{"field":"lo","type":"quantitative","scale":{"domain":[-6,115],"nice":false,"zero":false},"axis":{"title":"Aggregation AA (AUC)","values":[0,25,50,75,100]}},"y2":{"field":"hi"}}},
        {"mark":{"type":"bar","size":16,"fill":"white","stroke":"#333","strokeWidth":0.8},"encoding":{"y":{"field":"q1","type":"quantitative","scale":{"domain":[-6,115],"nice":false,"zero":false}},"y2":{"field":"q3"}}}
      ]},
      {"data":{"name":"pl"},"transform":[{"bin":{"step":5},"field":"value","as":"vb"},{"window":[{"op":"row_number","as":"k"}],"groupby":["group","vb"]}],"mark":{"type":"circle","size":8,"opacity":1},"encoding":{"y":{"field":"value","type":"quantitative","scale":{"domain":[-6,115],"nice":false,"zero":false}},"xOffset":{"field":"k","type":"ordinal","scale":{"domain":[13,11,9,7,5,3,1,2,4,6,8,10,12,14]}},"color":{"field":"group","type":"nominal","scale":{"domain":["C","N","T"],"range":["#000000","#1fa3de","#d7282f"]},"legend":null}}},
      {"data":{"name":"box"},"transform":[{"filter":"datum.panel == 'l'"}],"mark":{"type":"tick","size":16,"thickness":1,"color":"#333"},"encoding":{"y":{"field":"med","type":"quantitative","scale":{"domain":[-6,115],"nice":false,"zero":false}}}},
      {"data":{"name":"brk"},"transform":[{"filter":"datum.panel == 'l'"}],"mark":{"type":"rule","color":"#555","strokeWidth":0.8},"encoding":{"x2":{"field":"group2"},"y":{"field":"y","type":"quantitative","scale":{"domain":[-6,115],"nice":false,"zero":false}}}},
      {"data":{"name":"drp"},"transform":[{"filter":"datum.panel == 'l'"}],"mark":{"type":"rule","color":"#555","strokeWidth":0.8},"encoding":{"y":{"field":"y","type":"quantitative","scale":{"domain":[-6,115],"nice":false,"zero":false}},"y2":{"field":"yd"}}},
      {"data":{"name":"star"},"transform":[{"filter":"datum.panel == 'l' && datum.side == 'L'"}],"mark":{"type":"text","text":"*","align":"right","baseline":"middle","dx":-1,"dy":3,"fontSize":12},"encoding":{"y":{"field":"y","type":"quantitative","scale":{"domain":[-6,115],"nice":false,"zero":false}}}},
      {"data":{"name":"star"},"transform":[{"filter":"datum.panel == 'l' && datum.side == 'R'"}],"mark":{"type":"text","text":"*","align":"left","baseline":"middle","dx":2,"dy":3,"fontSize":12},"encoding":{"y":{"field":"y","type":"quantitative","scale":{"domain":[-6,115],"nice":false,"zero":false}}}}
     ]}
 ],"spacing":59,"bounds":"flush"}
],
"spacing":3
}
